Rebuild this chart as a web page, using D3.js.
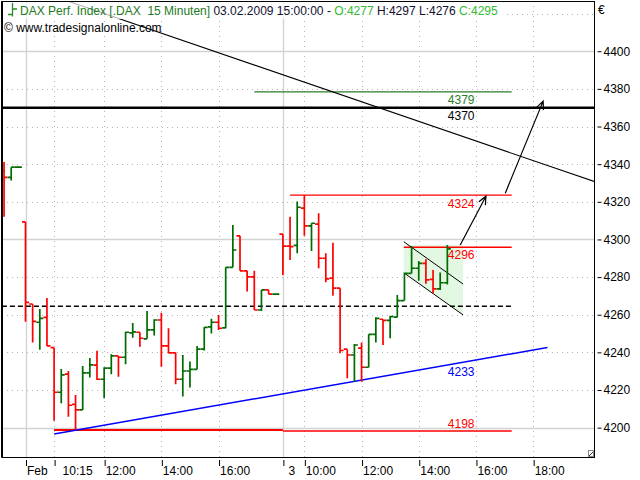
<!DOCTYPE html>
<html><head><meta charset="utf-8">
<script src="https://cdn.jsdelivr.net/npm/d3@7"></script>
<style>
html,body{margin:0;padding:0;background:#fff;}
svg{display:block;font-family:"Liberation Sans",Arial,sans-serif;}
text{white-space:pre;}
</style></head><body>
<svg id="chart" width="640" height="480"></svg>
<script>
// ---------------- DATA ----------------
const firstIndex = -3; // bar index of first bar (Jan 30 late bars), 15-minute bars
const opens  = [4336.4,4333.0,4338.4, 4309.3,4265.7,4256.0,4258.6,4242.5,4218.8,4228.4,4212.4,4209.4,4229.1,4233.2,4225.7,4231.6,4238.1,4237.4,4250.4,4250.7,4247.2,4251.9,4257.2,4243.4,4239.7,4225.7,4230.1,4231.0,4241.7,4253.5,4256.0,4253.0,4285.2,4301.9,4283.3,4280.1,4262.5,4273.2,4270.9, 4302.8,4296.5,4296.9,4316.6,4307.2,4308.1,4290.0,4279.5,4274.1,4241.7,4238.6,4242.2,4232.1,4249.6,4257.6,4257.0,4258.7,4267.5,4282.0,4284.7,4287.3,4278.8,4273.7,4277];
const highs  = [4341.2,4338.4,4338.4, 4309.3,4265.7,4263.1,4268.9,4242.5,4231.2,4230.1,4217.4,4232.8,4237.0,4240.8,4232.1,4239.0,4238.1,4251.0,4255.6,4250.7,4262.0,4257.6,4261.1,4252.8,4239.9,4238.6,4235.1,4243.4,4253.5,4257.8,4259.8,4285.2,4307.7,4301.9,4283.3,4283.3,4273.2,4273.2,4270.9, 4302.8,4312.1,4320.1,4323.6,4308.6,4313.9,4292.7,4298.3,4274.1,4241.7,4244.5,4245.2,4249.6,4258.7,4257.6,4259.4,4270.5,4282.0,4296.5,4288.5,4289.5,4283.8,4282.4,4297];
const lows   = [4312.1,4331.3,4338.4, 4256.3,4245.2,4241.4,4243.4,4203.7,4213.0,4205.8,4199.1,4209.4,4226.6,4225.3,4215.6,4228.4,4227.1,4233.7,4247.8,4243.0,4247.2,4248.9,4232.4,4239.5,4223.1,4216.5,4221.3,4231.0,4241.0,4250.0,4251.9,4252.8,4285.2,4283.3,4272.3,4262.5,4262.0,4270.9,4270.9, 4281.1,4289.1,4292.7,4302.0,4293.8,4284.7,4277.3,4270.1,4239.5,4226.2,4224.4,4224.4,4232.1,4245.2,4243.9,4247.5,4258.7,4267.5,4282.0,4278.1,4276.4,4271.4,4273.2,4276];
const closes = [4333.0,4338.4,4338.4, 4266.6,4256.5,4258.1,4243.4,4218.8,4228.0,4211.9,4209.4,4229.1,4233.3,4225.7,4231.6,4238.1,4237.4,4250.7,4250.9,4247.5,4251.9,4257.2,4243.4,4239.7,4225.7,4230.1,4231.0,4241.7,4253.3,4256.0,4252.8,4285.2,4294.4,4283.3,4280.1,4262.5,4273.2,4270.9,4270.9, 4296.5,4296.2,4317.1,4307.2,4308.6,4290.0,4279.0,4274.1,4241.0,4238.6,4243.9,4232.1,4249.6,4258.1,4257.0,4259.0,4267.5,4282.0,4284.7,4287.3,4278.5,4273.7,4277.0,4295];

// time axis
const timeTickIndex  = [0, 4, 11, 19, 27, 36, 39, 47, 55, 63, 71];
const timeTickLabels = ["Feb","10:15","12:00","14:00","16:00","3","10:00","12:00","14:00","16:00","18:00"];
const dayBreakIndex  = [0, 36];

// price axis
const priceTicks        = [4200,4220,4240,4260,4280,4300,4320,4340,4360,4380,4400];
const solidGridPrices   = [4200,4300,4400];
const dottedGridPrices  = [4220,4240,4260,4280,4320,4340,4360,4380,4420];

// horizontal levels drawn on the chart
const levelValues = [4378.4, 4370.0, 4323.5, 4295.8, 4198.7, 4198.2, 4264.5];
const levelFrom   = [32, -3.3, 37, 52.9, 4, 36, -3.3];
const levelTo     = [68, 79.6, 68, 68, 36, 68, 68];

// trend lines [index, price]
const trendStart = [[6.2, 4426.3], [4, 4196.6]];
const trendEnd   = [[79.6, 4330.7], [73.0, 4242.6]];

// down-sloping flag channel
const channelUpper = [[52.9, 4298.8], [61.2, 4276.3]];
const channelLower = [[52.9, 4282.3], [61.2, 4259.9]];
const channelFill  = [[52.9, 4297.0], [61.2, 4297.0], [61.2, 4259.9], [52.9, 4282.3]];

// projection arrows
const arrowStart = [[60.8, 4297.0], [67.1, 4324.6]];
const arrowEnd   = [[64.4, 4323.0], [72.4, 4373.5]];

// value labels
const labelTexts  = ["4379","4370","4324","4296","4233","4198"];
const labelPrices = [4378.4, 4370.0, 4323.5, 4295.8, 4233.3, 4198.2];
const labelIndex  = 59;

// header
const titleName  = "DAX Perf. Index [.DAX  15 Minuten]";
const titleStamp = "03.02.2009 15:00:00 - ";
const copyright  = "\u00A9 www.tradesignalonline.com";

// ---------------- STYLE / LAYOUT ----------------
const W = 640, H = 480;
const plot = {l: 2, r: 594, t: 1, b: 457};
const upCol = "#006b00", downCol = "#ff0000";
const levelColors = ["#2a7d2a", "#000000", "#ff0000", "#ff0000", "#ff0000", "#ff0000", "#000000"];
const levelWidths = [1.2, 2.4, 1.2, 1.5, 2, 1.5, 1.5];
const levelDash   = [null, null, null, null, null, null, "5,3"];
const trendColors = ["#000000", "#0000ff"];
const trendWidths = [1.1, 1.5];
const labelColors = ["#2a7d2a", "#000000", "#ff0000", "#ff0000", "#0000ff", "#ff0000"];
const labelDy     = [12.5, 12, 12.5, 12, 11.5, -3.5];
const tickDx      = [1, 8, 1, 1, 1, 5, 1, 1, 1, 1, 1];

const svg = d3.select("#chart");
svg.append("rect").attr("width", W).attr("height", H).attr("fill", "#fff");

const x = d3.scaleLinear().domain([(plot.l - 25.5) / 7.15, (plot.r - 25.5) / 7.15]).range([plot.l, plot.r]);
const y = d3.scaleLinear().domain([4184.4, 4426.7]).range([plot.b, plot.t]);

const clipId = "plotclip";
svg.append("clipPath").attr("id", clipId).append("rect")
  .attr("x", plot.l).attr("y", plot.t).attr("width", plot.r - plot.l).attr("height", plot.b - plot.t);

const g = svg.append("g").attr("clip-path", `url(#${clipId})`);

// grid
g.selectAll(".hdot").data(dottedGridPrices).join("line")
  .attr("x1", plot.l).attr("x2", plot.r)
  .attr("y1", d => Math.round(y(d)) + 0.5).attr("y2", d => Math.round(y(d)) + 0.5)
  .attr("stroke", "#b4b4b4").attr("stroke-width", 1).attr("stroke-dasharray", "1,4");
const dottedTimeIdx = timeTickIndex.filter(d => !dayBreakIndex.includes(d));
g.selectAll(".vdot").data(dottedTimeIdx).join("line")
  .attr("y1", plot.t).attr("y2", plot.b)
  .attr("x1", d => Math.round(x(d)) + 0.5).attr("x2", d => Math.round(x(d)) + 0.5)
  .attr("stroke", "#b4b4b4").attr("stroke-width", 1).attr("stroke-dasharray", "1,4");
g.selectAll(".hsol").data(solidGridPrices).join("line")
  .attr("x1", plot.l).attr("x2", plot.r)
  .attr("y1", d => Math.round(y(d)) + 0.5).attr("y2", d => Math.round(y(d)) + 0.5)
  .attr("stroke", "#d2d2d2").attr("stroke-width", 1.3);
g.selectAll(".vsol").data(dayBreakIndex).join("line")
  .attr("y1", plot.t).attr("y2", plot.b)
  .attr("x1", d => Math.round(x(d)) + 0.5).attr("x2", d => Math.round(x(d)) + 0.5)
  .attr("stroke", "#d2d2d2").attr("stroke-width", 1.3);

// channel fill
const pt = p => [x(p[0]), y(p[1])];
g.append("path").attr("d", d3.line()(channelFill.map(pt)) + "Z").attr("fill", "#e2f8e2");

// horizontal levels
levelValues.forEach((v, k) => {
  g.append("line")
    .attr("x1", x(levelFrom[k])).attr("x2", x(levelTo[k]))
    .attr("y1", y(v)).attr("y2", y(v))
    .attr("stroke", levelColors[k]).attr("stroke-width", levelWidths[k])
    .attr("stroke-dasharray", levelDash[k]);
});

// trend lines
trendStart.forEach((s, k) => {
  g.append("line")
    .attr("x1", x(s[0])).attr("y1", y(s[1]))
    .attr("x2", x(trendEnd[k][0])).attr("y2", y(trendEnd[k][1]))
    .attr("stroke", trendColors[k]).attr("stroke-width", trendWidths[k]);
});

// channel lines
[channelUpper, channelLower].forEach(c => {
  g.append("line")
    .attr("x1", x(c[0][0])).attr("y1", y(c[0][1]))
    .attr("x2", x(c[1][0])).attr("y2", y(c[1][1]))
    .attr("stroke", "#000").attr("stroke-width", 1);
});

// bars (OHLC)
const bars = opens.map((o, k) => ({i: firstIndex + k, o, h: highs[k], l: lows[k], c: closes[k]}));
const tick = 3.5;
const bg = g.append("g").attr("stroke-width", 1.7).attr("fill", "none");
bars.forEach(b => {
  const col = b.c >= b.o ? upCol : downCol;
  const xc = x(b.i);
  const hh = b.h === b.l ? 0 : y(b.l) - y(b.h);
  bg.append("path")
    .attr("d", `M${xc},${y(b.h)}V${y(b.h) + hh}M${xc - tick},${y(b.o)}H${xc}M${xc},${y(b.c)}H${xc + tick}`)
    .attr("stroke", col);
});

// arrows
arrowStart.forEach((s, k) => {
  const [x1, y1] = pt(s), [x2, y2] = pt(arrowEnd[k]);
  const ang = Math.atan2(y2 - y1, x2 - x1);
  const len = 9, spread = 0.42;
  const a1 = [x2 - len * Math.cos(ang - spread), y2 - len * Math.sin(ang - spread)];
  const a2 = [x2 - len * Math.cos(ang + spread), y2 - len * Math.sin(ang + spread)];
  g.append("path")
    .attr("d", `M${x1},${y1}L${x2},${y2}M${a1[0]},${a1[1]}L${x2},${y2}L${a2[0]},${a2[1]}`)
    .attr("stroke", "#000").attr("stroke-width", 1.2).attr("fill", "none");
});

// value labels
labelTexts.forEach((t, k) => {
  svg.append("text")
    .attr("x", x(labelIndex) + 0.5).attr("y", y(labelPrices[k]) + labelDy[k])
    .attr("fill", labelColors[k]).attr("font-size", 12).text(t);
});

// header translucent strip
svg.append("rect").attr("x", plot.l + 1).attr("y", plot.t + 1).attr("width", 500).attr("height", 17)
  .attr("fill", "#fff").attr("opacity", 0.7);

// frame
svg.append("rect").attr("x", plot.l).attr("y", plot.t + 0.5).attr("width", plot.r - plot.l + 0.5).attr("height", plot.b - plot.t)
  .attr("fill", "none").attr("stroke", "#000").attr("stroke-width", 1);
svg.append("line").attr("x1", plot.l).attr("x2", plot.l).attr("y1", plot.t).attr("y2", plot.b + 0.5)
  .attr("stroke", "#000").attr("stroke-width", 2);

// resize glyph bottom-right
svg.append("rect").attr("x", 588.5).attr("y", 450.5).attr("width", 5).attr("height", 6)
  .attr("fill", "#fff").attr("stroke", "#888").attr("stroke-width", 1);
svg.append("line").attr("x1", 589).attr("y1", 456).attr("x2", 593).attr("y2", 452).attr("stroke", "#333");

// right price axis
const yAxis = d3.axisRight(y).tickValues(priceTicks).tickSize(4).tickPadding(2).tickFormat(d3.format("d"));
const ya = svg.append("g").attr("transform", `translate(${plot.r + 3.5},0)`).call(yAxis);
ya.select(".domain").remove();
ya.selectAll("text").attr("font-size", 12).attr("font-family", "Liberation Sans, Arial, sans-serif").attr("fill", "#000");
ya.selectAll(".tick line").attr("stroke", "#000");
svg.append("text").attr("x", 598).attr("y", 14).attr("font-size", 12).attr("fill", "#000").text("\u20AC");

// bottom time axis
const xAxis = d3.axisBottom(x).tickValues(timeTickIndex).tickSize(6).tickFormat((d, k) => timeTickLabels[k]);
const xa = svg.append("g").attr("transform", `translate(0,${plot.b + 3})`).call(xAxis);
xa.select(".domain").remove();
xa.selectAll(".tick line").attr("stroke", "#000").attr("transform", "translate(0.5,0)");
xa.selectAll("text").attr("font-size", 12).attr("font-family", "Liberation Sans, Arial, sans-serif")
  .attr("fill", "#000").attr("text-anchor", "start").attr("dy", null).attr("y", 15)
  .attr("x", (d, k) => tickDx[k]);

// header texts
svg.append("path")
  .attr("d", "M12.5,3V16.5M8,14.5H12.5M12.5,9H17")
  .attr("stroke", "#2a8a2a").attr("stroke-width", 1.3).attr("fill", "none");
const last = bars[bars.length - 1];
const title = svg.append("text").attr("x", 20).attr("y", 15).attr("font-size", 12).attr("xml:space", "preserve");
title.append("tspan").attr("fill", "#237a23").text(titleName + " ");
title.append("tspan").attr("fill", "#101030").text(titleStamp);
title.append("tspan").attr("fill", "#33bb33").text("O:" + Math.round(last.o));
title.append("tspan").attr("fill", "#101030").text(" H:" + Math.round(last.h) + " L:" + Math.round(last.l) + " ");
title.append("tspan").attr("fill", "#33bb33").text("C:" + Math.round(last.c));
svg.append("text").attr("x", 4).attr("y", 32).attr("font-size", 12).attr("fill", "#000").text(copyright);
</script>
</body></html>
